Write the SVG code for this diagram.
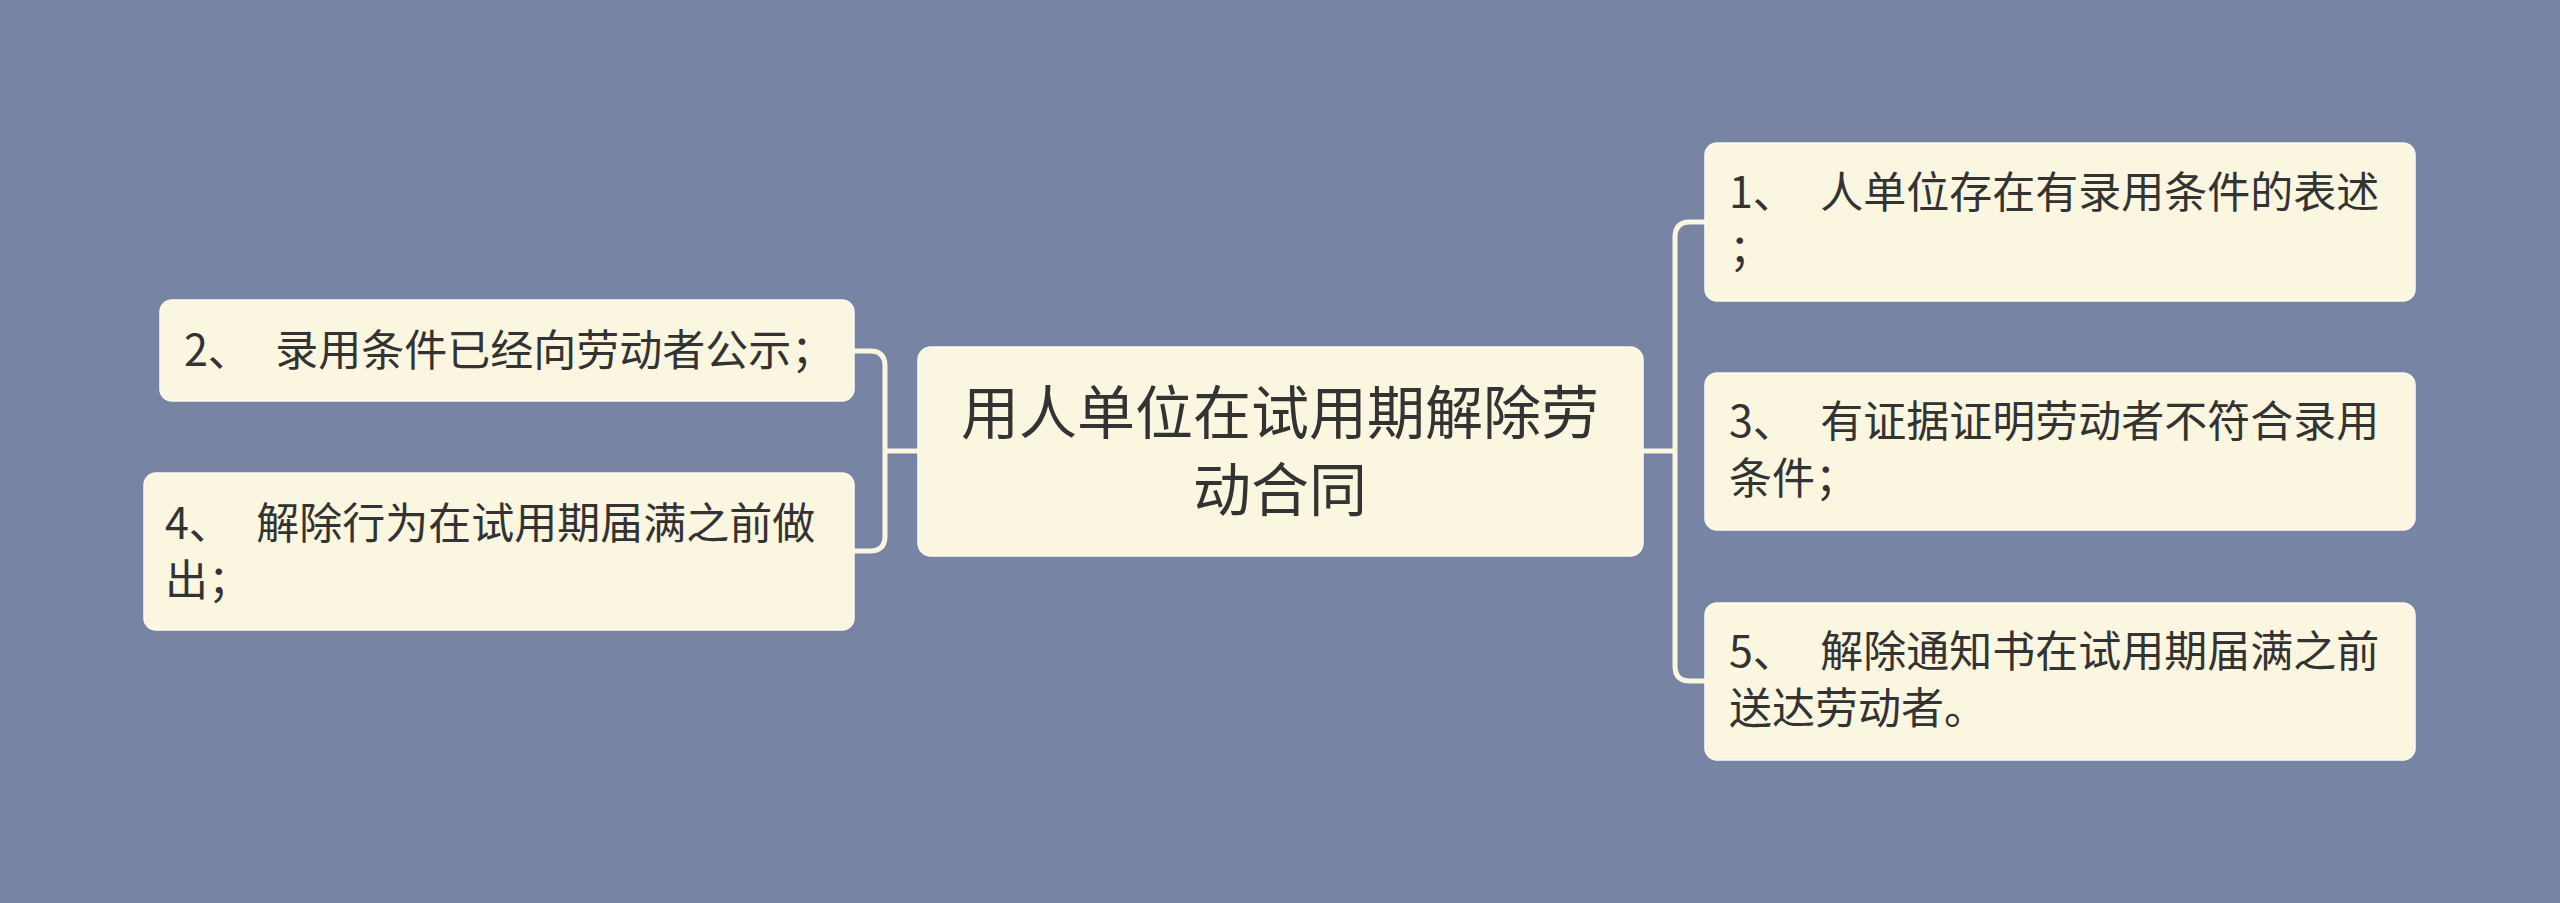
<svg xmlns="http://www.w3.org/2000/svg" width="2560" height="903" viewBox="0 0 2560 903">
<style>
.bg{fill:#7784a3}
.node{fill:#fbf6e0;stroke:#fdfbef;stroke-width:1.5}
.t{font-family:"Noto Sans CJK SC","Noto Sans",sans-serif;fill:#333333}
.c{font-size:43px}
.m{font-size:58px}
.link{fill:none;stroke:#fbf6e0;stroke-width:5;stroke-linecap:round}
</style>
<rect class="bg" x="0" y="0" width="2560" height="903"/>
<g id="connectors">
<path class="link" d="M918,451 H885 M854,351 H870 Q885,351 885,366 V536 Q885,551 870,551 H854"/>
<path class="link" d="M1643,451 H1675 M1705,222 H1690 Q1675,222 1675,237 V666 Q1675,681 1690,681 H1705"/>
</g>
<g id="center">
<rect class="node" x="918" y="347" width="725" height="209" rx="13"/>
<text class="t m" x="1280" y="434" text-anchor="middle">用人单位在试用期解除劳</text>
<text class="t m" x="1280" y="511" text-anchor="middle">动合同</text>
</g>
<g id="node2">
<rect class="node" x="160" y="300" width="694" height="101" rx="12"/>
<text class="t c" x="184" y="366" xml:space="preserve">2、  <tspan dx="5">录用条件已经向劳动者公示；</tspan></text>
</g>
<g id="node4">
<rect class="node" x="144" y="473" width="710" height="157" rx="12"/>
<text class="t c" x="165" y="539" xml:space="preserve">4、  <tspan dx="5">解除行为在试用期届满之前做</tspan></text>
<text class="t c" x="165" y="596">出；</text>
</g>
<g id="node1">
<rect class="node" x="1705" y="143" width="710" height="158" rx="12"/>
<text class="t c" x="1729" y="208" xml:space="preserve">1、  <tspan dx="5">人单位存在有录用条件的表述</tspan></text>
<text class="t c" x="1729" y="265">；</text>
</g>
<g id="node3">
<rect class="node" x="1705" y="373" width="710" height="157" rx="12"/>
<text class="t c" x="1729" y="437" xml:space="preserve">3、  <tspan dx="5">有证据证明劳动者不符合录用</tspan></text>
<text class="t c" x="1729" y="494">条件；</text>
</g>
<g id="node5">
<rect class="node" x="1705" y="603" width="710" height="157" rx="12"/>
<text class="t c" x="1729" y="667" xml:space="preserve">5、  <tspan dx="5">解除通知书在试用期届满之前</tspan></text>
<text class="t c" x="1729" y="724">送达劳动者。</text>
</g>
</svg>
